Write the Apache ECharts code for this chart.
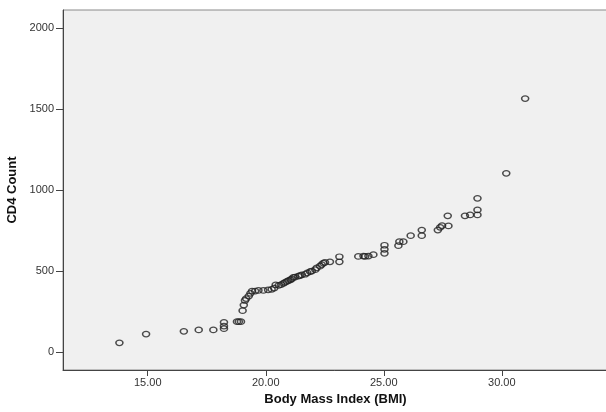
<!DOCTYPE html>
<html>
<head>
<meta charset="utf-8">
<script src="https://cdn.jsdelivr.net/npm/echarts@6/dist/echarts.min.js"></script>
<style>
body { margin: 0; background: #fff; }
#chart { width: 606px; height: 412px; }
</style>
</head>
<body>
<div id="chart"></div>
<script>
// values
var bmi = [13.80, 14.93, 16.53, 17.16, 17.78, 18.23, 18.23, 18.23, 18.78, 18.86,
           18.95, 19.02, 19.07, 19.12, 19.17, 19.28, 19.35, 19.42, 19.55, 19.69,
           19.90, 20.10, 20.25, 20.36, 20.42, 20.55, 20.65, 20.75, 20.82, 20.90,
           20.96, 21.05, 21.10, 21.17, 21.24, 21.38, 21.45, 21.53, 21.67, 21.76,
           21.88, 21.95, 22.10, 22.16, 22.30, 22.37, 22.44, 22.51, 22.72, 23.12,
           23.12, 23.92, 24.14, 24.21, 24.35, 24.56, 25.03, 25.03, 25.03, 25.62,
           25.66, 25.83, 26.14, 26.61, 26.61, 27.29, 27.39, 27.47, 27.74, 27.71,
           28.44, 28.66, 28.97, 28.97, 28.97, 30.19, 30.99];
var cd4 = [57, 111, 128, 136, 136, 144, 160, 183, 187, 187,
           187, 255, 290, 318, 330, 345, 362, 376, 376, 380,
           380, 383, 387, 395, 414, 412, 416, 424, 430, 436,
           440, 446, 452, 460, 462, 468, 472, 476, 480, 488,
           496, 500, 508, 520, 530, 540, 548, 553, 557, 557,
           588, 590, 592, 590, 592, 601, 609, 634, 659, 656,
           681, 681, 718, 718, 753, 753, 770, 780, 778, 841,
           841, 846, 846, 877, 949, 1103, 1564];
var xTicks = [15, 20, 25, 30];
var yTicks = [0, 500, 1000, 1500, 2000];

var points = [];
for (var i = 0; i < bmi.length; i++) {
    points.push([bmi[i], cd4[i]]);
}

var chart = echarts.init(document.getElementById('chart'));
var option = {
    animation: false,
    backgroundColor: '#fff',
    textStyle: { fontFamily: 'Liberation Sans' },
    grid: {
        left: 63, top: 10, right: -2, bottom: 42,
        outerBoundsMode: 'none',
        show: true,
        backgroundColor: '#f0f0f0',
        borderColor: '#8a8a8a',
        borderWidth: 1
    },
    xAxis: {
        type: 'value',
        min: 11.41,
        max: 34.5,
        name: 'Body Mass Index (BMI)',
        nameLocation: 'middle',
        nameGap: 12,
        nameTextStyle: { fontSize: 13, fontWeight: 'bold', color: '#111' },
        axisLine: { onZero: false, lineStyle: { color: '#444' } },
        axisTick: { customValues: xTicks, length: 6, lineStyle: { color: '#444' } },
        axisLabel: {
            customValues: xTicks,
            fontSize: 11,
            color: '#333',
            margin: 7,
            formatter: function (v) { return v.toFixed(2); }
        },
        splitLine: { show: false }
    },
    yAxis: {
        type: 'value',
        min: -111,
        max: 2111,
        name: 'CD4 Count',
        nameLocation: 'middle',
        nameGap: 39,
        nameTextStyle: { fontSize: 13, fontWeight: 'bold', color: '#111' },
        axisLine: { onZero: false, lineStyle: { color: '#444' } },
        axisTick: { customValues: yTicks, length: 7, lineStyle: { color: '#444' } },
        axisLabel: {
            customValues: yTicks,
            fontSize: 11,
            color: '#333',
            margin: 9,
            formatter: function (v) { return String(v); }
        },
        splitLine: { show: false }
    },
    series: [{
        type: 'scatter',
        symbol: 'circle',
        symbolSize: [7, 5.5],
        itemStyle: {
            color: 'transparent',
            borderColor: '#222',
            borderWidth: 1.4
        },
        data: points
    }]
};
chart.setOption(option);
</script>
</body>
</html>
